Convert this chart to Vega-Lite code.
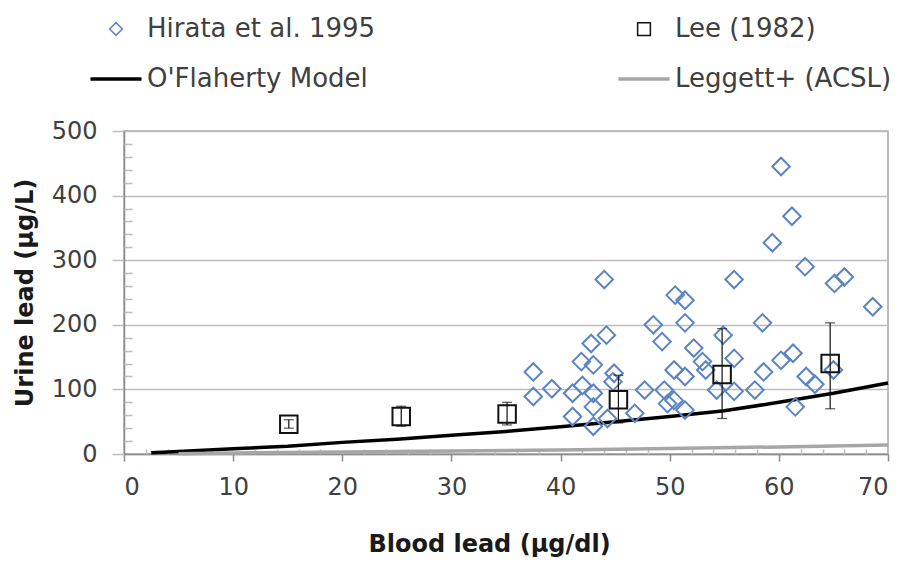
{
  "$schema": "https://vega.github.io/schema/vega-lite/v6.json",
  "autosize": {"type": "none"},
  "width": 764,
  "height": 323,
  "padding": {"left": 124, "top": 131, "right": 19, "bottom": 111},
  "background": "white",
  "config": {
    "view": {"stroke": "#a6a6a6", "strokeWidth": 1.5},
    "font": "DejaVu Sans"
  },
  "datasets": {
    "points": [
      {"blood": 37.5, "urine": 127, "series": "Hirata et al. 1995"},
      {"blood": 37.5, "urine": 89, "series": "Hirata et al. 1995"},
      {"blood": 39.2, "urine": 101, "series": "Hirata et al. 1995"},
      {"blood": 41.1, "urine": 94, "series": "Hirata et al. 1995"},
      {"blood": 41.1, "urine": 58, "series": "Hirata et al. 1995"},
      {"blood": 41.9, "urine": 143, "series": "Hirata et al. 1995"},
      {"blood": 42.0, "urine": 106, "series": "Hirata et al. 1995"},
      {"blood": 42.8, "urine": 171, "series": "Hirata et al. 1995"},
      {"blood": 43.0, "urine": 138, "series": "Hirata et al. 1995"},
      {"blood": 43.0, "urine": 94, "series": "Hirata et al. 1995"},
      {"blood": 43.0, "urine": 73, "series": "Hirata et al. 1995"},
      {"blood": 43.0, "urine": 43, "series": "Hirata et al. 1995"},
      {"blood": 44.2, "urine": 184, "series": "Hirata et al. 1995"},
      {"blood": 44.0, "urine": 270, "series": "Hirata et al. 1995"},
      {"blood": 44.9, "urine": 125, "series": "Hirata et al. 1995"},
      {"blood": 44.8, "urine": 112, "series": "Hirata et al. 1995"},
      {"blood": 44.3, "urine": 55, "series": "Hirata et al. 1995"},
      {"blood": 46.8, "urine": 63, "series": "Hirata et al. 1995"},
      {"blood": 47.7, "urine": 99, "series": "Hirata et al. 1995"},
      {"blood": 48.5, "urine": 200, "series": "Hirata et al. 1995"},
      {"blood": 49.3, "urine": 174, "series": "Hirata et al. 1995"},
      {"blood": 49.5, "urine": 99, "series": "Hirata et al. 1995"},
      {"blood": 49.8, "urine": 78, "series": "Hirata et al. 1995"},
      {"blood": 50.4, "urine": 130, "series": "Hirata et al. 1995"},
      {"blood": 50.4, "urine": 83, "series": "Hirata et al. 1995"},
      {"blood": 51.4, "urine": 68, "series": "Hirata et al. 1995"},
      {"blood": 51.4, "urine": 120, "series": "Hirata et al. 1995"},
      {"blood": 50.5, "urine": 246, "series": "Hirata et al. 1995"},
      {"blood": 51.4, "urine": 238, "series": "Hirata et al. 1995"},
      {"blood": 51.4, "urine": 203, "series": "Hirata et al. 1995"},
      {"blood": 52.2, "urine": 164, "series": "Hirata et al. 1995"},
      {"blood": 53.0, "urine": 143, "series": "Hirata et al. 1995"},
      {"blood": 53.3, "urine": 130, "series": "Hirata et al. 1995"},
      {"blood": 54.9, "urine": 184, "series": "Hirata et al. 1995"},
      {"blood": 54.3, "urine": 99, "series": "Hirata et al. 1995"},
      {"blood": 55.9, "urine": 148, "series": "Hirata et al. 1995"},
      {"blood": 55.9, "urine": 97, "series": "Hirata et al. 1995"},
      {"blood": 55.9, "urine": 270, "series": "Hirata et al. 1995"},
      {"blood": 57.8, "urine": 99, "series": "Hirata et al. 1995"},
      {"blood": 58.6, "urine": 127, "series": "Hirata et al. 1995"},
      {"blood": 58.5, "urine": 203, "series": "Hirata et al. 1995"},
      {"blood": 59.4, "urine": 327, "series": "Hirata et al. 1995"},
      {"blood": 60.2, "urine": 445, "series": "Hirata et al. 1995"},
      {"blood": 60.2, "urine": 145, "series": "Hirata et al. 1995"},
      {"blood": 61.2, "urine": 368, "series": "Hirata et al. 1995"},
      {"blood": 61.3, "urine": 156, "series": "Hirata et al. 1995"},
      {"blood": 61.5, "urine": 73, "series": "Hirata et al. 1995"},
      {"blood": 62.4, "urine": 290, "series": "Hirata et al. 1995"},
      {"blood": 62.5, "urine": 120, "series": "Hirata et al. 1995"},
      {"blood": 63.3, "urine": 108, "series": "Hirata et al. 1995"},
      {"blood": 65.1, "urine": 264, "series": "Hirata et al. 1995"},
      {"blood": 66.0, "urine": 274, "series": "Hirata et al. 1995"},
      {"blood": 65.0, "urine": 130, "series": "Hirata et al. 1995"},
      {"blood": 68.6, "urine": 228, "series": "Hirata et al. 1995"},
      {"blood": 15.1, "urine": 46, "lo": 40, "hi": 53, "series": "Lee (1982)"},
      {"blood": 25.4, "urine": 58, "lo": 43, "hi": 74, "series": "Lee (1982)"},
      {"blood": 35.1, "urine": 62, "lo": 45, "hi": 80, "series": "Lee (1982)"},
      {"blood": 45.3, "urine": 84, "lo": 48, "hi": 122, "series": "Lee (1982)"},
      {"blood": 54.8, "urine": 123, "lo": 55, "hi": 194, "series": "Lee (1982)"},
      {"blood": 64.7, "urine": 140, "lo": 70, "hi": 203, "series": "Lee (1982)"}
    ],
    "models": [
      {"blood": 2.5, "urine": 2, "series": "O'Flaherty Model"},
      {"blood": 5, "urine": 4, "series": "O'Flaherty Model"},
      {"blood": 10, "urine": 8, "series": "O'Flaherty Model"},
      {"blood": 15, "urine": 12, "series": "O'Flaherty Model"},
      {"blood": 20, "urine": 18, "series": "O'Flaherty Model"},
      {"blood": 25, "urine": 23, "series": "O'Flaherty Model"},
      {"blood": 30, "urine": 29, "series": "O'Flaherty Model"},
      {"blood": 35, "urine": 35, "series": "O'Flaherty Model"},
      {"blood": 40, "urine": 42, "series": "O'Flaherty Model"},
      {"blood": 45, "urine": 50, "series": "O'Flaherty Model"},
      {"blood": 50, "urine": 58, "series": "O'Flaherty Model"},
      {"blood": 55, "urine": 67, "series": "O'Flaherty Model"},
      {"blood": 60, "urine": 80, "series": "O'Flaherty Model"},
      {"blood": 65, "urine": 94, "series": "O'Flaherty Model"},
      {"blood": 70, "urine": 110, "series": "O'Flaherty Model"},
      {"blood": 5, "urine": 0.5, "series": "Leggett+ (ACSL)"},
      {"blood": 10, "urine": 1.5, "series": "Leggett+ (ACSL)"},
      {"blood": 20, "urine": 3, "series": "Leggett+ (ACSL)"},
      {"blood": 30, "urine": 4.5, "series": "Leggett+ (ACSL)"},
      {"blood": 40, "urine": 6, "series": "Leggett+ (ACSL)"},
      {"blood": 50, "urine": 8.5, "series": "Leggett+ (ACSL)"},
      {"blood": 60, "urine": 11, "series": "Leggett+ (ACSL)"},
      {"blood": 70, "urine": 14, "series": "Leggett+ (ACSL)"}
    ]
  },
  "resolve": {"axis": {"x": "independent", "y": "independent"}},
  "layer": [
    {
      "data": {"name": "models"},
      "mark": {"type": "line", "strokeWidth": 3.5},
      "encoding": {
        "x": {
          "field": "blood", "type": "quantitative",
          "scale": {"domain": [0, 70], "nice": false, "zero": false},
          "axis": {
            "orient": "bottom",
            "values": [0, 10, 20, 30, 40, 50, 60, 70],
            "grid": false,
            "domainColor": "#8c8c8c", "domainWidth": 1.5,
            "tickColor": "#8c8c8c", "tickSize": 7, "tickWidth": 1.5,
            "labelFont": "DejaVu Sans", "labelFontSize": 24, "labelColor": "#404040",
            "labelPadding": 14,
            "title": "Blood lead (µg/dl)",
            "titleFont": "DejaVu Sans", "titleFontSize": 24, "titleFontWeight": "bold", "titleColor": "#1a1a1a",
            "titlePadding": 33,
            "titleX": 365
          }
        },
        "y": {
          "field": "urine", "type": "quantitative",
          "scale": {"domain": [0, 500], "nice": false},
          "axis": {
            "orient": "left",
            "values": [0, 100, 200, 300, 400, 500],
            "grid": true, "gridColor": "#bdbdbd", "gridWidth": 1.5,
            "domainColor": "#8c8c8c", "domainWidth": 1.5,
            "tickColor": "#bdbdbd", "tickSize": 12, "tickWidth": 1.5,
            "labelFont": "DejaVu Sans", "labelFontSize": 24, "labelColor": "#404040",
            "labelPadding": 15,
            "title": "Urine lead (µg/L)",
            "titleFont": "DejaVu Sans", "titleFontSize": 24, "titleFontWeight": "bold", "titleColor": "#1a1a1a",
            "titlePadding": 14
          }
        },
        "color": {
          "field": "series", "type": "nominal",
          "scale": {
            "domain": ["Hirata et al. 1995", "O'Flaherty Model", "Lee (1982)", "Leggett+ (ACSL)"],
            "range": ["#5a84c4", "#000000", "#111111", "#a6a6a6"]
          },
          "legend": {
            "orient": "none", "legendX": -21, "legendY": -115,
            "columns": 2, "columnPadding": 235, "rowPadding": 24,
            "title": null, "padding": 0,
            "labelFont": "DejaVu Sans", "labelFontSize": 26, "labelColor": "#404040",
            "labelLimit": 400, "labelOffset": 18,
            "symbolSize": 2601, "symbolStrokeWidth": 3.5,
            "encode": {
              "symbols": {
                "update": {
                  "strokeWidth": {"signal": "(datum.value == 'Hirata et al. 1995' || datum.value == 'Lee (1982)') ? 1.5 : 3.5"},
                  "fill": {"value": "transparent"}
                }
              }
            }
          }
        }
      }
    },
    {
      "data": {"name": "points"},
      "mark": {"type": "point", "filled": false, "strokeWidth": 2, "size": 4900, "opacity": 1},
      "encoding": {
        "x": {
          "field": "blood", "type": "quantitative",
          "axis": {
            "orient": "bottom",
            "values": [2, 4, 6, 8, 12, 14, 16, 18, 22, 24, 26, 28, 32, 34, 36, 38, 42, 44, 46, 48, 52, 54, 56, 58, 62, 64, 66, 68],
            "labels": false, "domain": false, "grid": false, "title": null,
            "tickColor": "#bdbdbd", "tickSize": -5, "tickWidth": 1.5
          }
        },
        "y": {
          "field": "urine", "type": "quantitative",
          "axis": {
            "orient": "left",
            "values": [20, 40, 60, 80, 120, 140, 160, 180, 220, 240, 260, 280, 320, 340, 360, 380, 420, 440, 460, 480],
            "labels": false, "domain": false, "grid": false, "title": null,
            "tickColor": "#bdbdbd", "tickSize": -8, "tickWidth": 1.5
          }
        },
        "color": {"field": "series", "type": "nominal"},
        "shape": {
          "field": "series", "type": "nominal",
          "scale": {
            "domain": ["Hirata et al. 1995", "O'Flaherty Model", "Lee (1982)", "Leggett+ (ACSL)"],
            "range": ["M-0.25,0L0,-0.25L0.25,0L0,0.25Z", "stroke", "M-0.25,-0.25H0.25V0.25H-0.25Z", "stroke"]
          }
        }
      }
    },
    {
      "data": {"name": "points"},
      "transform": [{"filter": "datum.series == 'Lee (1982)'"}],
      "mark": {"type": "rule", "color": "#111111", "strokeWidth": 1.2},
      "encoding": {
        "x": {"field": "blood", "type": "quantitative", "axis": null},
        "y": {"field": "lo", "type": "quantitative", "axis": null},
        "y2": {"field": "hi"}
      }
    },
    {
      "data": {"name": "points"},
      "transform": [{"filter": "datum.series == 'Lee (1982)'"}],
      "mark": {"type": "tick", "orient": "horizontal", "color": "#111111", "size": 10, "thickness": 1.2},
      "encoding": {
        "x": {"field": "blood", "type": "quantitative", "axis": null},
        "y": {"field": "lo", "type": "quantitative", "axis": null}
      }
    },
    {
      "data": {"name": "points"},
      "transform": [{"filter": "datum.series == 'Lee (1982)'"}],
      "mark": {"type": "tick", "orient": "horizontal", "color": "#111111", "size": 10, "thickness": 1.2},
      "encoding": {
        "x": {"field": "blood", "type": "quantitative", "axis": null},
        "y": {"field": "hi", "type": "quantitative", "axis": null}
      }
    }
  ]
}
